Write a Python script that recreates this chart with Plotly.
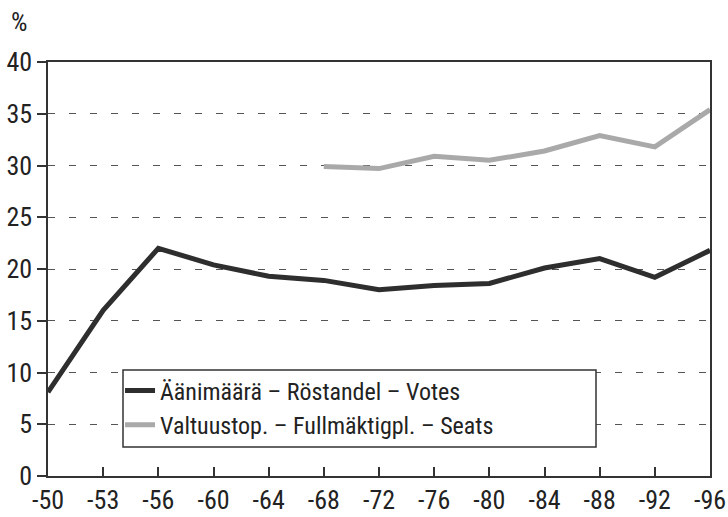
import plotly.graph_objects as go

years = ["-50", "-53", "-56", "-60", "-64", "-68", "-72", "-76", "-80", "-84", "-88", "-92", "-96"]
votes = [8.1, 16.0, 22.0, 20.4, 19.3, 18.9, 18.0, 18.4, 18.6, 20.1, 21.0, 19.2, 21.8]
seat_years = ["-68", "-72", "-76", "-80", "-84", "-88", "-92", "-96"]
seats = [29.9, 29.7, 30.9, 30.5, 31.4, 32.9, 31.8, 35.4]
y_ticks = [0, 5, 10, 15, 20, 25, 30, 35, 40]

FONT = "Roboto Condensed, DejaVu Sans Condensed, sans-serif"

fig = go.Figure()
fig.add_trace(go.Scatter(
    x=years, y=votes, mode="lines",
    name="Äänimäärä – Röstandel – Votes", legendgroup="v",
    line=dict(color="#2e2e2e", width=5),
))
fig.add_trace(go.Scatter(
    x=seat_years, y=seats, mode="lines",
    name="Valtuustop. – Fullmäktigpl. – Seats", legendgroup="s",
    line=dict(color="#a9a9a9", width=5),
))

fig.update_layout(
    width=728, height=517,
    margin=dict(l=48, r=18, t=62, b=41, autoexpand=False),
    paper_bgcolor="white", plot_bgcolor="white",
    font=dict(family=FONT, size=26, color="#222"),
    showlegend=True,
    legend=dict(
        x=0.1088, y=0.26, xanchor="left", yanchor="top",
        bgcolor="rgba(0,0,0,0)", borderwidth=0,
        font=dict(family=FONT, size=24, color="#222"),
        itemwidth=30, traceorder="grouped", tracegroupgap=0,
    ),
    shapes=[dict(
        type="rect", xref="paper", yref="paper",
        x0=0.1133, x1=0.8278, y0=0.070, y1=0.256,
        fillcolor="white", line=dict(color="#333", width=1.5), layer="above",
    )],
    xaxis=dict(
        type="category", categoryorder="array", categoryarray=years,
        range=[0, len(years) - 1], automargin=False,
        showline=True, linecolor="#333", linewidth=1.5, mirror=True,
        ticks="inside", ticklen=9, tickcolor="#333", tickwidth=1.5,
        showgrid=False, zeroline=False,
        tickfont=dict(family=FONT, size=26, color="#222"),
    ),
    yaxis=dict(
        range=[0, 40], tickvals=y_ticks, automargin=False,
        showline=True, linecolor="#333", linewidth=1.5, mirror=True,
        ticks="outside", ticklen=9, tickcolor="#333", tickwidth=1.5,
        showgrid=True, gridcolor="#555", gridwidth=1, griddash="7px,14px",
        zeroline=False,
        tickfont=dict(family=FONT, size=26, color="#222"),
    ),
    yaxis2=dict(
        range=[0, 40], tickvals=y_ticks, overlaying="y", side="left",
        automargin=False, showline=False, showgrid=False, zeroline=False,
        ticks="inside", ticklen=5, tickcolor="#333", tickwidth=1.5,
        showticklabels=False,
    ),
    annotations=[dict(
        text="%", xref="paper", yref="paper", x=-0.044, y=1.097,
        xanchor="center", yanchor="middle", showarrow=False,
        font=dict(family=FONT, size=26, color="#222"),
    )],
)

fig.write_html("out.html", config={"displayModeBar": False},
               post_script="document.body.style.margin='0';")
